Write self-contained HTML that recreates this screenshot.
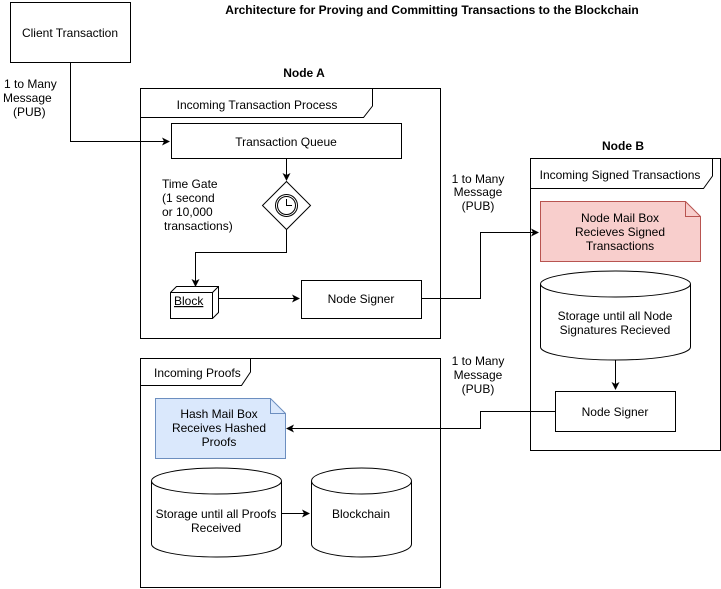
<!DOCTYPE html>
<html><head><style>body{margin:0;background:#fff}svg{display:block}text{font-family:"Liberation Sans",Arial,sans-serif;font-size:12px;fill:#000}</style></head><body>
<svg width="721" height="589" viewBox="0 0 721 589">
<defs><marker id="a" markerWidth="8" markerHeight="8" refX="7" refY="4" orient="auto" markerUnits="userSpaceOnUse"><path d="M0,0 L8,4 L0,8 L2,4 z" fill="#000"/></marker></defs>
<text x="432" y="14" text-anchor="middle" style="font-weight:bold">Architecture for Proving and Committing Transactions to the Blockchain</text>
<g fill="none" stroke="#000" stroke-width="1">
<rect x="10.5" y="2.5" width="120" height="60" fill="#fff"/>
<rect x="140.5" y="88.5" width="300" height="250"/>
<path d="M140.5,117.5 H363.5 L372.5,106 V88.5"/>
<rect x="171.5" y="123.5" width="230" height="35" fill="#fff"/>
<path d="M286.5,158.5 V180" marker-end="url(#a)"/>
<path d="M286.5,181.5 L310.5,205.5 L286.5,229.5 L262.5,205.5 Z" fill="#fff"/>
<circle cx="286.5" cy="205.5" r="11"/><circle cx="286.5" cy="205.5" r="9"/>
<path d="M286.5,199 V205.5 H292"/>
<path d="M286.5,229.5 V252.5 H195.5 V286" marker-end="url(#a)"/>
<path d="M170.5,292.5 L176.5,286.5 H218.5 V312.5 L212.5,318.5 H170.5 Z M170.5,292.5 H212.5 V318.5 M212.5,292.5 L218.5,286.5" fill="#fff"/>
<rect x="301.5" y="280.5" width="120" height="38" fill="#fff"/>
<path d="M218.5,298.5 H299" marker-end="url(#a)"/>
<path d="M70.5,62.5 V141.5 H169" marker-end="url(#a)"/>
<rect x="530.5" y="158.5" width="190" height="292"/>
<path d="M530.5,188.5 H703.5 L712.5,176 V158.5"/>
<path d="M540.5,201.5 H685.5 L700.5,216.5 V261.5 H540.5 Z" fill="#f8cecc" stroke="#b85450"/>
<path d="M685.5,201.5 V216.5 H700.5" stroke="#b85450"/>
<path d="M540.5,284 A75,13 0 0 1 690.5,284 V347 A75,13 0 0 1 540.5,347 Z" fill="#fff"/>
<path d="M540.5,284 A75,13 0 0 0 690.5,284"/>
<path d="M615.5,360 V389" marker-end="url(#a)"/>
<rect x="555.5" y="391.5" width="120" height="40" fill="#fff"/>
<path d="M421.5,298.5 H480.5 V232.5 H538" marker-end="url(#a)"/>
<rect x="140.5" y="358.5" width="300" height="229"/>
<path d="M140.5,385.5 H241.5 L250.5,372 V358.5"/>
<path d="M155.5,398.5 H270.5 L285.5,413.5 V458.5 H155.5 Z" fill="#dae8fc" stroke="#6c8ebf"/>
<path d="M270.5,398.5 V413.5 H285.5" stroke="#6c8ebf"/>
<path d="M151.5,481 A65,13 0 0 1 281.5,481 V544 A65,13 0 0 1 151.5,544 Z" fill="#fff"/>
<path d="M151.5,481 A65,13 0 0 0 281.5,481"/>
<path d="M311.5,481 A50,13 0 0 1 411.5,481 V544 A50,13 0 0 1 311.5,544 Z" fill="#fff"/>
<path d="M311.5,481 A50,13 0 0 0 411.5,481"/>
<path d="M281.5,513.5 H309" marker-end="url(#a)"/>
<path d="M555.5,411.5 H480.5 V428.5 H287" marker-end="url(#a)"/>
</g>
<text x="70" y="37" text-anchor="middle">Client Transaction</text>
<text x="4" y="88">1 to Many</text><text x="3" y="102">Message</text><text x="13" y="116">(PUB)</text>
<text x="304" y="77" text-anchor="middle" style="font-weight:bold">Node A</text>
<text x="257" y="109" text-anchor="middle">Incoming Transaction Process</text>
<text x="286" y="146" text-anchor="middle">Transaction Queue</text>
<text x="162" y="188">Time Gate</text><text x="162" y="202">(1 second</text><text x="162" y="216">or 10,000</text><text x="164" y="230">transactions)</text>
<text x="174" y="305" text-decoration="underline">Block</text>
<text x="361" y="303" text-anchor="middle">Node Signer</text>
<text x="623" y="150" text-anchor="middle" style="font-weight:bold">Node B</text>
<text x="620" y="179" text-anchor="middle">Incoming Signed Transactions</text>
<text x="478" y="183" text-anchor="middle">1 to Many</text><text x="478" y="196" text-anchor="middle">Message</text><text x="478" y="210" text-anchor="middle">(PUB)</text>
<text x="620" y="222" text-anchor="middle">Node Mail Box</text><text x="620" y="236" text-anchor="middle">Recieves Signed</text><text x="620" y="250" text-anchor="middle">Transactions</text>
<text x="615" y="320" text-anchor="middle">Storage until all Node</text><text x="615" y="334" text-anchor="middle">Signatures Recieved</text>
<text x="615" y="416" text-anchor="middle">Node Signer</text>
<text x="478" y="365" text-anchor="middle">1 to Many</text><text x="478" y="379" text-anchor="middle">Message</text><text x="478" y="393" text-anchor="middle">(PUB)</text>
<text x="154" y="377">Incoming Proofs</text>
<text x="219" y="418" text-anchor="middle">Hash Mail Box</text><text x="219" y="432" text-anchor="middle">Receives Hashed</text><text x="219" y="446" text-anchor="middle">Proofs</text>
<text x="216" y="518" text-anchor="middle">Storage until all Proofs</text><text x="216" y="532" text-anchor="middle">Received</text>
<text x="361" y="518" text-anchor="middle">Blockchain</text>
</svg>
</body></html>
